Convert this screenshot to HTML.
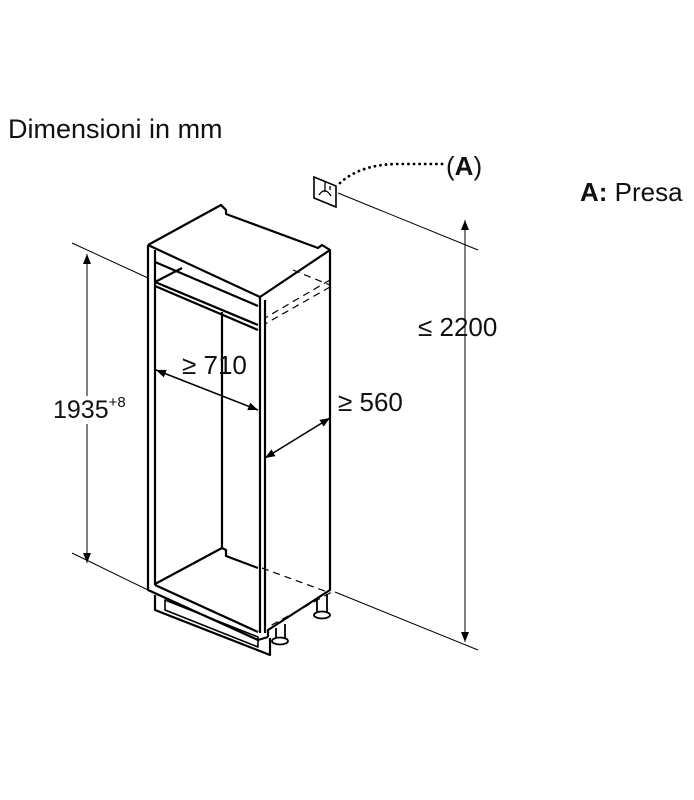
<!DOCTYPE html>
<html><head><meta charset="utf-8"><style>
body{margin:0;background:#fff;width:694px;height:800px;overflow:hidden}
svg{display:block}
text{font-family:"Liberation Sans",sans-serif;fill:#111}
</style></head><body>
<svg width="694" height="800" viewBox="0 0 694 800" xmlns="http://www.w3.org/2000/svg">
<defs>
<marker id="ar" viewBox="0 0 10 10" refX="10" refY="5" markerWidth="10" markerHeight="10" orient="auto-start-reverse" markerUnits="userSpaceOnUse"><path d="M0,1 L10,5 L0,9z" fill="#000"/></marker>
</defs>
<g stroke="#000" fill="none">
<path d="M314,177 L336,186 L336,207 L314,198Z" stroke-width="1.6"/>
<path d="M319,195 Q325,186 331,196 M325,182 L325,192 M330,186 L330,190" stroke-width="1.3"/>
<path d="M340,183 Q360,165 395,164 L445,164" stroke-width="2.8" stroke-dasharray="0.1,5.5" stroke-linecap="round"/>
<g stroke-width="1">
<line x1="338" y1="193" x2="478" y2="250"/>
<line x1="335" y1="592" x2="478" y2="650"/>
<line x1="72" y1="243" x2="148" y2="278"/>
<line x1="72" y1="553" x2="148" y2="590"/>
<line x1="465" y1="220" x2="465" y2="642" marker-start="url(#ar)" marker-end="url(#ar)"/>
<line x1="87" y1="254" x2="87" y2="563" marker-start="url(#ar)" marker-end="url(#ar)"/>
</g>
<g stroke-width="1.6">
<line x1="156" y1="370" x2="258" y2="410" marker-start="url(#ar)" marker-end="url(#ar)"/>
<line x1="265" y1="458" x2="330" y2="418" marker-start="url(#ar)" marker-end="url(#ar)"/>
</g>
<g stroke-width="2.2" stroke-linejoin="round">
<path d="M148,245 L221,205 L226,210 L226,214 L318,248 L322,245 L330,250 L330,590 L268,630 L268,637"/>
<path d="M148,245 L260,297 L330,250"/>
<path d="M148,245 L148,590 L258,640 L268,637"/>
<path d="M155,250 L155,585"/>
<path d="M260,297 L260,633 M265,300 L265,633"/>
<path d="M155,262 L258,306"/>
<path d="M155,282 L182,268 M155,282 L258,325 M155,286 L258,330"/>
<path d="M222,312 L222,548"/>
<path d="M155,584 L222,548 L226,550 L226,556 L258,568"/>
<path d="M155,585 L258,632"/>
<path d="M155,595 L155,610 L270,655 L270,638"/>
<path d="M165,600 L165,610 L258,647 L258,637 Z" stroke-width="1.6"/>
<path d="M276,628 L276,640 M285,624 L285,640 M317,598 L317,614 M327,594 L327,614" stroke-width="1.8"/>
<ellipse cx="280" cy="641" rx="8" ry="3.5" stroke-width="1.8" fill="#fff"/>
<ellipse cx="322" cy="615" rx="8" ry="3.5" stroke-width="1.8" fill="#fff"/>
</g>
<g stroke-width="1.2" stroke-dasharray="7,5">
<path d="M293,270 L330,285 M330,280 L265,318 M330,287 L265,324"/>
<path d="M262,568 L330,593 L268,627"/>
</g>
</g>
<rect x="52" y="396" width="82" height="28" fill="#fff"/>
<text x="8" y="138" font-size="27">Dimensioni in mm</text>
<text x="580" y="201" font-size="26"><tspan font-weight="bold">A:</tspan> Presa</text>
<text x="446" y="175" font-size="26">(<tspan font-weight="bold">A</tspan>)</text>
<text x="418" y="336" font-size="26">≤ 2200</text>
<text x="53" y="418" font-size="25">1935<tspan font-size="15" dy="-11">+8</tspan></text>
<text x="182" y="374" font-size="26">≥ 710</text>
<text x="338" y="411" font-size="26">≥ 560</text>
</svg>
</body></html>
